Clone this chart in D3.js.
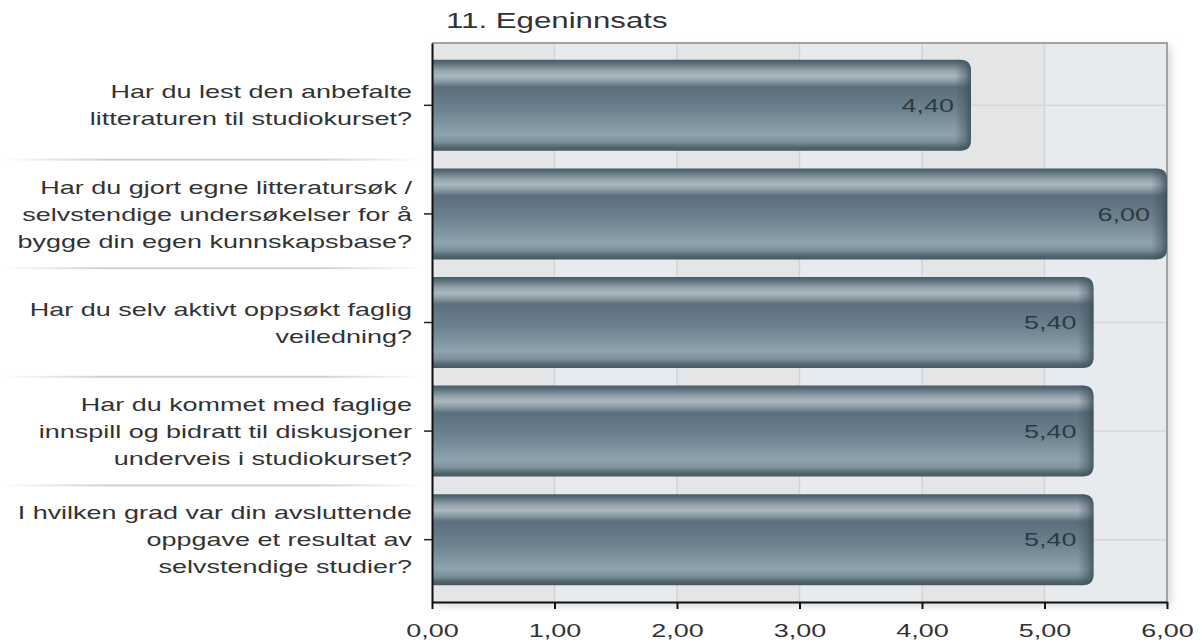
<!DOCTYPE html>
<html>
<head>
<meta charset="utf-8">
<script src="https://cdn.jsdelivr.net/npm/d3@7"></script>
<style>
  body { margin:0; background:#fff; }
  svg text { font-family: "Liberation Sans", Arial, sans-serif; fill:#333; }
</style>
</head>
<body>
<div id="chart"></div>
<script>
var chartTitle = "11. Egeninnsats";

var categories = [
  ["Har du lest den anbefalte", "litteraturen til studiokurset?"],
  ["Har du gjort egne litteratursøk /", "selvstendige undersøkelser for å", "bygge din egen kunnskapsbase?"],
  ["Har du selv aktivt oppsøkt faglig", "veiledning?"],
  ["Har du kommet med faglige", "innspill og bidratt til diskusjoner", "underveis i studiokurset?"],
  ["I hvilken grad var din avsluttende", "oppgave et resultat av", "selvstendige studier?"]
];

var values = [4.40, 6.00, 5.40, 5.40, 5.40];

var xTicks = [0, 1, 2, 3, 4, 5, 6];

var W = 1202, H = 642;
var margin = {top:43, right:35, bottom:40, left:432};
var ids = d3.range(categories.length);
var stretch = "scale(1.42,1)"; // text in the original is wide

var locale = d3.formatLocale({decimal:",", thousands:" ", grouping:[3], currency:["","kr"]});
var fmt = locale.format(".2f");

var svg = d3.select("#chart").append("svg").attr("width", W).attr("height", H);
var defs = svg.append("defs");

var x = d3.scaleLinear().domain([0, 6]).range([margin.left, W - margin.right]);
var y = d3.scaleBand().domain(ids).range([margin.top, H - margin.bottom])
  .paddingInner(0.162).paddingOuter(0.155);
var step = y.step(), bw = y.bandwidth();

// soft shadow behind plot
var shadow = defs.append("filter").attr("id","shadow").attr("x","-5%").attr("y","-5%").attr("width","115%").attr("height","115%");
shadow.append("feGaussianBlur").attr("stdDeviation", 4);
svg.append("rect").attr("x", margin.left + 4).attr("y", margin.top + 4)
  .attr("width", x(6) - x(0)).attr("height", y.range()[1] - margin.top)
  .attr("fill", "#d8d8d8").attr("filter", "url(#shadow)");

// plot background stripes
svg.append("g").selectAll("rect").data(xTicks.slice(0, -1)).join("rect")
  .attr("x", d => x(d)).attr("y", margin.top)
  .attr("width", d => x(d + 1) - x(d))
  .attr("height", y.range()[1] - margin.top)
  .attr("fill", (d, i) => i % 2 ? "#e8ebee" : "#e4e5e7");

// vertical grid
svg.append("g").selectAll("line").data(xTicks.slice(1, -1)).join("line")
  .attr("x1", d => x(d)).attr("x2", d => x(d))
  .attr("y1", margin.top).attr("y2", y.range()[1])
  .attr("stroke", "#d2d3d5").attr("stroke-width", 1.5);

// horizontal grid at category centers
svg.append("g").selectAll("line").data(ids).join("line")
  .attr("x1", x(0)).attr("x2", x(6))
  .attr("y1", d => y(d) + bw / 2).attr("y2", d => y(d) + bw / 2)
  .attr("stroke", "#d6d7d9").attr("stroke-width", 1.5);

// top + right border
svg.append("path")
  .attr("d", "M" + x(0) + "," + margin.top + "H" + x(6) + "V" + y.range()[1])
  .attr("fill", "none").attr("stroke", "#a3a3a3").attr("stroke-width", 2);

// bar gradient
var g = defs.append("linearGradient").attr("id", "barGrad").attr("x1", 0).attr("x2", 0).attr("y1", 0).attr("y2", 1);
[[0, "#465b67"], [0.04, "#5c707c"], [0.12, "#95a5ae"], [0.18, "#abb7be"], [0.24, "#8799a3"],
 [0.3, "#5a6f7b"], [0.55, "#6d828e"], [0.82, "#8fa3ae"], [0.9, "#7d919c"], [0.96, "#52666f"], [1, "#455864"]]
  .forEach(s => g.append("stop").attr("offset", s[0]).attr("stop-color", s[1]));

var r = 11;
function barPath(x0, x1, y0, h) {
  return "M" + x0 + "," + y0 + "H" + (x1 - r) + "Q" + x1 + "," + y0 + " " + x1 + "," + (y0 + r) +
    "V" + (y0 + h - r) + "Q" + x1 + "," + (y0 + h) + " " + (x1 - r) + "," + (y0 + h) + "H" + x0 + "Z";
}

var bars = svg.append("g");
values.forEach(function(v, i) {
  var x1 = x(v), y0 = y(i);
  var eg = defs.append("linearGradient").attr("id", "edge" + i)
    .attr("gradientUnits", "userSpaceOnUse").attr("x1", x1 - 16).attr("x2", x1).attr("y1", 0).attr("y2", 0);
  eg.append("stop").attr("offset", 0).attr("stop-color", "#3e525d").attr("stop-opacity", 0);
  eg.append("stop").attr("offset", 0.6).attr("stop-color", "#3e525d").attr("stop-opacity", 0.45);
  eg.append("stop").attr("offset", 1).attr("stop-color", "#3a4e59").attr("stop-opacity", 0.85);
  bars.append("path").attr("d", barPath(x(0), x1, y0, bw)).attr("fill", "url(#barGrad)");
  bars.append("path").attr("d", barPath(x(0), x1, y0, bw)).attr("fill", "url(#edge" + i + ")");
  bars.append("g").attr("transform", "translate(" + (x1 - 17) + "," + (y0 + bw / 2) + ") " + stretch)
    .append("text").attr("dy", "0.35em")
    .attr("text-anchor", "end").attr("font-size", 19).style("fill", "#2f3a40")
    .text(fmt(v));
});

// axes
svg.append("g").attr("transform", "translate(0," + y.range()[1] + ")")
  .call(d3.axisBottom(x).tickValues(xTicks).tickFormat(fmt).tickSize(7).tickSizeOuter(0))
  .call(a => a.select(".domain").attr("stroke", "#111").attr("stroke-width", 2))
  .call(a => a.selectAll(".tick line").attr("stroke", "#111").attr("stroke-width", 2))
  .call(a => a.selectAll("text").attr("font-size", 19).attr("dy", "1.3em").attr("transform", stretch)
    .attr("font-family", "Liberation Sans, Arial, sans-serif").style("fill", "#333"));

svg.append("g").attr("transform", "translate(" + x(0) + ",0)")
  .call(d3.axisLeft(y).tickSize(8).tickSizeOuter(0).tickFormat(""))
  .call(a => a.select(".domain").attr("stroke", "#111").attr("stroke-width", 2))
  .call(a => a.selectAll(".tick line").attr("stroke", "#222").attr("stroke-width", 1.5));

// separators between category labels
var sg = defs.append("linearGradient").attr("id", "sepGrad");
[[0, "#ffffff"], [0.25, "#cfcfcf"], [0.75, "#cfcfcf"], [1, "#ffffff"]]
  .forEach(s => sg.append("stop").attr("offset", s[0]).attr("stop-color", s[1]));
svg.append("g").selectAll("rect").data(ids.slice(1)).join("rect")
  .attr("x", 0).attr("width", 425)
  .attr("y", d => y(d) - step * y.paddingInner() / 2 - 1).attr("height", 2)
  .attr("fill", "url(#sepGrad)");

// category labels
var lineH = 27;
svg.append("g").selectAll("g").data(ids).join("g")
  .attr("transform", d => "translate(412," + (y(d) + bw / 2) + ") " + stretch)
  .append("text")
  .attr("text-anchor", "end").attr("font-size", 19)
  .each(function(d) {
    var lines = categories[d];
    var top = -(lines.length - 1) * lineH / 2;
    d3.select(this).selectAll("tspan").data(lines).join("tspan")
      .attr("x", 0).attr("y", (l, j) => top + j * lineH).attr("dy", "0.35em")
      .text(l => l);
  });

// title
svg.append("g").attr("transform", "translate(446,28) " + stretch)
  .append("text").attr("font-size", 22).text(chartTitle);
</script>
</body>
</html>
